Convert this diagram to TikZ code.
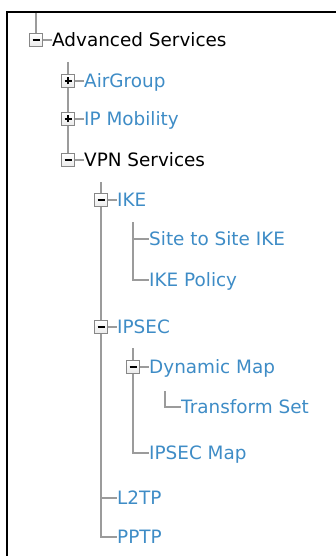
\documentclass[tikz,border=0pt]{standalone}
\usepackage{fontspec}
\setmainfont{DejaVu Sans}
\usetikzlibrary{backgrounds}
\definecolor{linkblue}{RGB}{62,140,198}
\definecolor{treegray}{RGB}{155,155,155}
\definecolor{boxgray}{RGB}{135,135,135}
\begin{document}
\begin{tikzpicture}[x=1pt,y=-1pt,
  lbl/.style={anchor=west, inner sep=0pt, text height=13pt, text depth=0pt,
    font=\fontsize{18.4}{20}\selectfont, text=linkblue},
  blk/.style={lbl, text=black},
  tbox/.style={draw=boxgray, line width=1.4pt, top color=white, bottom color=black!8,
    minimum size=12.5pt, inner sep=0pt},
  minusbox/.style={tbox, path picture={\draw[line width=1.6pt,black]
      ([xshift=-3.5pt]path picture bounding box.center) -- ([xshift=3.5pt]path picture bounding box.center);}},
  plusbox/.style={tbox, path picture={\draw[line width=1.6pt,black]
      ([xshift=-3.5pt]path picture bounding box.center) -- ([xshift=3.5pt]path picture bounding box.center)
      ([yshift=-3.5pt]path picture bounding box.center) -- ([yshift=3.5pt]path picture bounding box.center);}},
  conn/.style={draw=treegray, line width=1.8pt},
  frame/.style={draw=black, line width=2pt}]
\useasboundingbox (0,0) rectangle (336,556);
\draw[frame] (7,556) -- (7,12) -- (336,12);

% nodes
\node[minusbox] (advbox) at (36,40) {};
\node[blk] (adv) at (52,40) {Advanced Services};
\node[plusbox] (airbox) at (68,81) {};
\node[lbl] (air) at (84,81) {AirGroup};
\node[plusbox] (ipmbox) at (68,119) {};
\node[lbl] (ipm) at (84,119) {IP Mobility};
\node[minusbox] (vpnbox) at (68,160) {};
\node[blk] (vpn) at (84,160) {VPN Services};
\node[minusbox] (ikebox) at (101,200) {};
\node[lbl] (ike) at (117,200) {IKE};
\node[lbl] (s2s) at (149,239) {Site to Site IKE};
\node[lbl] (ikepol) at (149,280) {IKE Policy};
\node[minusbox] (ipsecbox) at (101,327) {};
\node[lbl] (ipsec) at (117,327) {IPSEC};
\node[minusbox] (dynbox) at (133,367) {};
\node[lbl] (dyn) at (149,367) {Dynamic Map};
\node[lbl] (ts) at (181,407) {Transform Set};
\node[lbl] (ipsecmap) at (149,453) {IPSEC Map};
\node[lbl] (l2tp) at (117,498) {L2TP};
\node[lbl] (pptp) at (117,537) {PPTP};

\coordinate (rootTop) at (36,13);
\coordinate (advKids) at (68,62);
\coordinate (vpnKids) at (101,182);
\coordinate (ikeKids) at (133,222);
\coordinate (ipsecKids) at (133,348);
\coordinate (dynKids) at (165,391);

\begin{scope}[on background layer]
  \draw[conn] (rootTop) -- (advbox.center);
  \draw[conn] (advbox.east) -- (adv.west);
  \draw[conn] (advKids) -- (vpnbox.center);
  \draw[conn] (airbox.east) -- (air.west);
  \draw[conn] (ipmbox.east) -- (ipm.west);
  \draw[conn] (vpnbox.east) -- (vpn.west);
  \draw[conn] (vpnKids) |- (pptp.west);
  \draw[conn] (vpnKids) |- (l2tp.west);
  \draw[conn] (ikebox.east) -- (ike.west);
  \draw[conn] (ikeKids) |- (ikepol.west);
  \draw[conn] (ikeKids) |- (s2s.west);
  \draw[conn] (ipsecbox.east) -- (ipsec.west);
  \draw[conn] (ipsecKids) |- (ipsecmap.west);
  \draw[conn] (dynbox.east) -- (dyn.west);
  \draw[conn] (dynKids) |- (ts.west);
\end{scope}
\end{tikzpicture}
\end{document}
